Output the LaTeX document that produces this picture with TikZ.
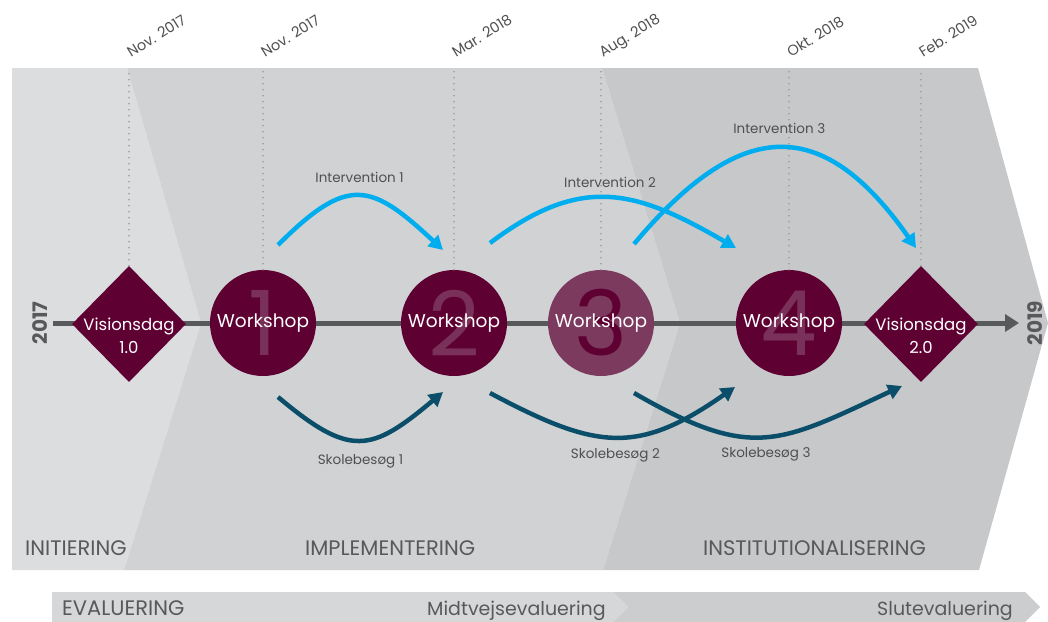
\documentclass[tikz,border=0pt]{standalone}
\usepackage{fontspec}
\setmainfont{Poppins}
\usetikzlibrary{shapes.geometric,arrows.meta}

\definecolor{wsdark}{HTML}{5F0032}
\definecolor{wslight}{HTML}{7D3A5F}
\definecolor{wsnum}{HTML}{7A3159}
\definecolor{intblue}{HTML}{00AEEF}
\definecolor{skoleteal}{HTML}{0B4E6A}
\definecolor{axisgray}{HTML}{58595B}
\definecolor{txtgray}{HTML}{505052}
\definecolor{dotgray}{HTML}{9A9A9C}
\definecolor{bandA}{HTML}{DCDDDF}
\definecolor{bandB}{HTML}{D1D2D4}
\definecolor{bandC}{HTML}{C7C8CA}
\definecolor{evalA}{HTML}{D6D7D9}
\definecolor{evalB}{HTML}{CCCDCF}

\tikzset{
  wscircle/.style={circle, fill=wsdark, minimum size=106pt, inner sep=0pt},
  vdiamond/.style={diamond, fill=wsdark, minimum width=114pt, minimum height=116pt, inner sep=0pt},
  bignum/.style={font=\fontsize{90}{90}\selectfont, text=wsnum, inner sep=0pt},
  wstext/.style={font=\fontsize{18.5}{22}\selectfont, text=white, inner sep=0pt},
  vtext/.style={font=\fontsize{16.5}{23}\selectfont, text=white, align=center, inner sep=0pt},
  datelbl/.style={font=\fontsize{14.5}{16}\selectfont, text=txtgray, rotate=32, anchor=base west, inner sep=0pt},
  dotline/.style={dotgray, line width=1.8pt, dash pattern=on 0pt off 6pt, line cap=round},
  axisline/.style={axisgray, line width=5pt, -{Triangle[length=14pt,width=17pt]}},
  interv/.style={intblue, line width=4.5pt, -{Triangle[length=14pt,width=15pt]}},
  skole/.style={skoleteal, line width=4.5pt, -{Triangle[length=14pt,width=15pt]}},
  arclbl/.style={font=\fontsize{13.5}{15}\selectfont, text=txtgray, inner sep=0pt},
  phase/.style={font=\fontsize{19}{22}\selectfont, text=axisgray, anchor=base west, inner sep=0pt},
  phasecaps/.style={phase, font=\fontsize{21}{24}\selectfont},
  yearlbl/.style={font=\bfseries\fontsize{20}{22}\selectfont, text=axisgray, rotate=90, inner sep=0pt}
}

\def\bandtop{-68}

\begin{document}
\begin{tikzpicture}[x=1pt,y=1pt]
        \useasboundingbox (0,0) rectangle (1048,-621);
        % phase bands
        \fill[bandA] (12,\bandtop) -- (127,\bandtop) -- (201,-323) -- (124,-570) -- (12,-570) -- cycle;
        \fill[bandB] (127,\bandtop) -- (602,\bandtop) -- (680,-323) -- (603,-570) -- (124,-570) -- (201,-323) -- cycle;
        \fill[bandC] (602,\bandtop) -- (978,\bandtop) -- (1048,-323) -- (979,-570) -- (603,-570) -- (680,-323) -- cycle;
        % evaluation band
        \fill[evalA] (52,-592) -- (613,-592) -- (628,-607) -- (613,-622) -- (52,-622) -- cycle;
        \fill[evalB] (613,-592) -- (1025,-592) -- (1040,-607) -- (1025,-622) -- (613,-622) -- (628,-607) -- cycle;
        % phase names
        \node[phasecaps] (initiering) at (25,-555) {INITIERING};
        \node[phasecaps] (implement) at (305,-555) {IMPLEMENTERING};
        \node[phasecaps] (institut) at (703,-555) {INSTITUTIONALISERING};
        \node[phasecaps] (evaluering) at (62,-615) {EVALUERING};
        \node[phase] (midtvejs) at (427,-615) {Midtvejsevaluering};
        \node[phase] (slut) at (877,-615) {Slutevaluering};
        % time axis
        \coordinate (ax0) at (53,-323);
        \coordinate (ax1) at (1019,-323);
        \draw[axisline] (ax0) -- (ax1);
        \node[yearlbl] (y2017) at (40,-323) {2017};
        \node[yearlbl] (y2019) at (1035,-323) {2019};
        % visionsdage
        \node[vdiamond] (v1) at (129,-324) {};
        \node[vtext] (v1txt) at (129,-336) {Visionsdag\\1.0};
        \node[vdiamond] (v2) at (921,-324) {};
        \node[vtext] (v2txt) at (921,-336) {Visionsdag\\2.0};
        % workshops
        \node[wscircle] (w1) at (263,-323) {};
        \node[bignum] (n1) at (w1) {1};
        \node[wstext] (w1txt) at (w1) {Workshop};
        \node[wscircle] (w2) at (454,-323) {};
        \node[bignum] (n2) at (w2) {2};
        \node[wstext] (w2txt) at (w2) {Workshop};
        \node[wscircle, fill=wslight] (w3) at (601,-323) {};
        \node[bignum, text=wsdark] (n3) at (w3) {3};
        \node[wstext] (w3txt) at (w3) {Workshop};
        \node[wscircle] (w4) at (789,-323) {};
        \node[bignum] (n4) at (w4) {4};
        \node[wstext] (w4txt) at (w4) {Workshop};
        % dotted date lines
        \foreach \n/\d in {v1/Nov. 2017, w1/Nov. 2017, w2/Mar. 2018, w3/Aug. 2018, w4/Okt. 2018, v2/Feb. 2019}{
            \draw[dotline] (\n.north) -- (\n.north |- 0,\bandtop);
            \node[datelbl] (\n date) at ([xshift=2pt]\n.north |- 0,-58) {\d};
        }
        % interventions
        \coordinate (i1a) at (278,-245);
        \coordinate (i1b) at (443,-250);
        \coordinate (i2a) at (490,-243);
        \coordinate (i2b) at (736,-248);
        \coordinate (i3a) at (634,-244);
        \coordinate (i3b) at (916,-248);
        \draw[interv] (i1a) to[out=45,in=137,looseness=1.53] node[arclbl, midway, above=11pt] (i1lbl) {Intervention 1} (i1b);
        \draw[interv] (i2a) to[out=37,in=150,looseness=1.2] node[arclbl, midway, above=8pt] (i2lbl) {Intervention 2} (i2b);
        \draw[interv] (i3a) to[out=50,in=125,looseness=1.49] node[arclbl, midway, above=12pt] (i3lbl) {Intervention 3} (i3b);
        % skolebesoeg
        \coordinate (s1a) at (278,-397);
        \coordinate (s1b) at (443,-392);
        \coordinate (s2a) at (490,-393);
        \coordinate (s2b) at (735,-387);
        \coordinate (s3a) at (634,-393);
        \coordinate (s3b) at (902,-386);
        \draw[skole] (s1a) to[out=-40,in=-140,looseness=1.46] node[arclbl, midway, below=12pt] (s1lbl) {Skolebesøg 1} (s1b);
        \draw[skole] (s2a) to[out=-28,in=-145,looseness=1.25] node[arclbl, midway, below=9pt] (s2lbl) {Skolebesøg 2} (s2b);
        \draw[skole] (s3a) to[out=-30,in=-155,looseness=1.3] node[arclbl, midway, below=9pt] (s3lbl) {Skolebesøg 3} (s3b);
\end{tikzpicture}
\end{document}
